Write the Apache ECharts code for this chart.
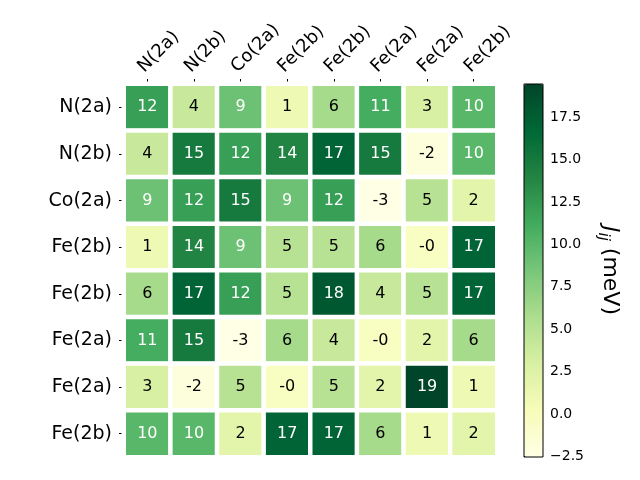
<!DOCTYPE html>
<html>
<head>
<meta charset="utf-8">
<script src="https://cdn.jsdelivr.net/npm/echarts@6/dist/echarts.min.js"></script>
<style>html,body{margin:0;padding:0;background:#fff}#c{width:640px;height:480px}</style>
</head>
<body>
<div id="c"></div>
<script>
var colLabels = ['N(2a)','N(2b)','Co(2a)','Fe(2b)','Fe(2b)','Fe(2a)','Fe(2a)','Fe(2b)'];
var rowLabels = ['N(2a)','N(2b)','Co(2a)','Fe(2b)','Fe(2b)','Fe(2a)','Fe(2a)','Fe(2b)'];
var row0 = [12, 4, 9, 1, 6, 11, 3, 10];
var row1 = [4, 15, 12, 14, 17, 15, -2, 10];
var row2 = [9, 12, 15, 9, 12, -2.54, 5, 2];
var row3 = [1, 14, 9, 5, 5, 6, -0.3, 17];
var row4 = [6, 17, 12, 5, 18, 4, 5, 17];
var row5 = [11, 15, -2.54, 6, 4, -0.3, 2, 6];
var row6 = [3, -2, 5, -0.3, 5, 2, 19.46, 1];
var row7 = [10, 10, 2, 17, 17, 6, 1, 2];
var rows = [row0,row1,row2,row3,row4,row5,row6,row7];
var cbTicks = [-2.5, 0, 2.5, 5, 7.5, 10, 12.5, 15, 17.5];

var vmin = Infinity, vmax = -Infinity;
var data = [];
rows.forEach(function(r, i){ r.forEach(function(v, j){
  data.push([j, i, v]); if (v < vmin) vmin = v; if (v > vmax) vmax = v;
});});
var mid = (vmin + vmax) / 2;
var FONT = 'DejaVu Sans';

var chart = echarts.init(document.getElementById('c'), null, {renderer:'canvas'});
chart.setOption({
  animation: false,
  textStyle: {fontFamily: FONT},
  grid: [
    {left: 124, top: 84, width: 373, height: 373},
    {left: 524, top: 84, width: 19, height: 373}
  ],
  xAxis: [
    {type:'category', data: colLabels, position:'top', gridIndex:0,
     axisLine:{show:false}, splitLine:{show:false},
     axisTick:{show:true, alignWithLabel:true, length:5, lineStyle:{color:'#000', width:1}},
     axisLabel:{rotate:-45, fontSize:18, color:'#000', margin:8, fontFamily:FONT, interval:0,
       align:'left', verticalAlign:'bottom'}},
    {type:'value', gridIndex:1, show:false, min:0, max:1}
  ],
  yAxis: [
    {type:'category', data: rowLabels, inverse:true, gridIndex:0,
     axisLine:{show:false}, splitLine:{show:false},
     axisTick:{show:true, alignWithLabel:true, length:5, lineStyle:{color:'#000', width:1}},
     axisLabel:{fontSize:19, color:'#000', margin:12, fontFamily:FONT, interval:0}},
    {type:'value', gridIndex:1, position:'right', min:vmin, max:vmax,
     axisLine:{show:false}, splitLine:{show:false},
     axisTick:{show:true, length:5, customValues:cbTicks, lineStyle:{color:'#000', width:1}},
     axisLabel:{show:true, customValues:cbTicks, fontSize:14, color:'#000', margin:7, fontFamily:FONT,
       formatter:function(v){ return v.toFixed(1).replace('-', '\u2212'); }},
     name:'{j|J}{s|ij}{n| (meV)}', nameLocation:'middle', nameRotate:-90, nameGap:50,
     nameTextStyle:{rich:{
       j:{fontSize:22, fontStyle:'italic', fontFamily:FONT, color:'#000', verticalAlign:'top', lineHeight:28},
       s:{fontSize:15, fontStyle:'italic', fontFamily:FONT, color:'#000', verticalAlign:'top', lineHeight:15, padding:[11,0,0,0]},
       n:{fontSize:22, fontFamily:FONT, color:'#000', verticalAlign:'top', lineHeight:28}
     }}}
  ],
  visualMap: {
    type:'continuous', min:vmin, max:vmax, seriesIndex:0, calculable:false,
    orient:'vertical', left:524, top:84, itemWidth:19, itemHeight:373, padding:0,
    text:null, showLabel:false, hoverLink:false,
    inRange:{color:['#ffffe5','#f7fcb9','#d9f0a3','#addd8e','#78c679','#41ab5d','#238443','#006837','#004529']}
  },
  series: [{
    type:'heatmap', xAxisIndex:0, yAxisIndex:0, data:data,
    itemStyle:{borderColor:'#fff', borderWidth:4.5},
    label:{show:true, fontSize:16, fontFamily:FONT,
      formatter:function(p){ var v = p.value[2]; var s = String(Math.round(v));
        if (v < 0 && Math.round(v) === 0) s = '-0';
        return (v > mid ? '{w|' : '{b|') + s + '}'; },
      rich:{w:{color:'#fff', fontSize:16, fontFamily:FONT}, b:{color:'#000', fontSize:16, fontFamily:FONT}}},
    emphasis:{disabled:true}
  }],
  graphic: [{type:'rect', shape:{x:524, y:84, width:19, height:373}, style:{fill:null, stroke:'#000', lineWidth:1}, z:100}]
});
</script>
</body>
</html>
